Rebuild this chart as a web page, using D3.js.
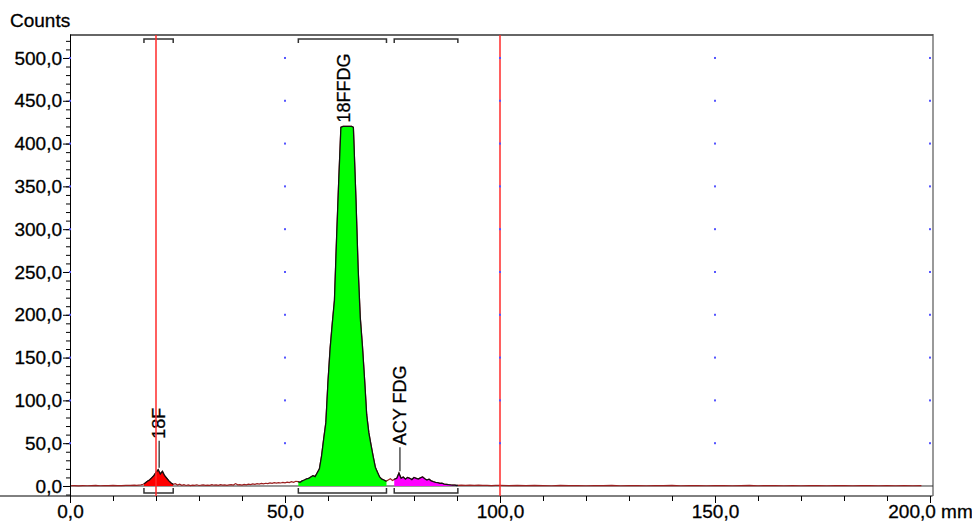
<!DOCTYPE html>
<html>
<head>
<meta charset="utf-8">
<script src="https://cdn.jsdelivr.net/npm/d3@7/dist/d3.min.js"></script>
<style>
    body { margin: 0; background: #fff; }
    svg text { font-family: "Liberation Sans", Arial, sans-serif; }
</style>
</head>
<body>
<div id="main"></div>
<script>
// radio-TLC trace: [position mm, counts]
const trace = [
    [0, 0.3], [1, 0.4], [2, 0.2], [3, 0.5], [4, 0.3], [5, 0.4], [6, 0.6], [7, 0.3], [8, 0.5], [9, 0.4],
    [10, 0.7], [11, 0.5], [12, 0.4], [13, 0.8], [14, 0.6], [15, 0.9], [15.5, 0.7], [16, 1], [16.5, 1.3],
    [17, 2], [17.5, 3.5], [18, 5.5], [18.5, 7], [19, 9.5], [19.5, 12], [20, 16], [20.5, 19], [21, 14],
    [21.5, 17], [22, 12], [22.5, 9], [23, 6], [23.5, 3.5], [24, 2],
    [24.5, 2.6], [25, 1], [25.5, 2.2], [26, 0.8], [26.5, 1.5], [27, 0.6], [27.5, 1.2], [28, 0.5], [28.5, 1],
    [29, 0.7], [29.5, 1.4], [30, 0.6], [30.5, 0.9], [31, 1.3], [31.5, 0.7], [32, 1.1], [32.5, 0.8], [33, 1.6],
    [33.5, 0.9], [34, 1.2], [34.5, 0.7], [35, 1.5], [35.5, 1], [36, 1.3], [36.5, 0.8], [37, 1.2], [37.5, 1.6],
    [38, 1.1], [38.5, 2.8], [39, 1.3], [39.5, 1.5], [40, 1.1], [40.5, 1.8], [41, 1.4], [41.5, 2.1], [42, 1.6],
    [42.5, 2.4], [43, 1.9], [43.5, 2.7], [44, 2.2], [44.5, 3], [45, 2.5], [45.5, 3.2], [46, 2.8], [46.5, 3.5],
    [47, 3], [47.5, 3.8], [48, 3.3], [48.5, 4], [49, 3.5], [49.5, 4.3], [50, 3.7], [50.5, 4.5], [51, 3.9],
    [51.5, 5], [52, 4.2], [52.5, 5.5],
    [53, 5], [53.5, 4.2], [54, 6], [54.5, 7], [55, 8.2], [55.5, 9], [56, 10.5], [56.5, 12], [57, 11],
    [57.5, 15.5], [58, 20], [58.5, 35], [59, 55], [59.5, 74], [60, 122], [60.5, 161], [61, 190], [61.5, 217],
    [62, 290], [62.5, 357], [63, 419], [63.5, 420], [64, 420], [64.5, 420], [65, 420], [65.5, 420], [65.9, 419],
    [66.5, 335], [67, 255], [67.5, 197], [68, 164], [68.5, 125], [69, 83], [69.5, 62], [70, 48], [70.5, 34.5],
    [71, 22], [71.5, 16], [72, 10.5], [72.5, 8], [73, 7], [73.5, 5.5],
    [74, 7], [74.5, 8.5], [75, 6.5], [75.5, 8], [76, 9], [76.5, 15], [77, 9], [77.5, 10.5], [78, 8], [78.5, 10],
    [79, 9], [79.5, 7.5], [80, 10], [80.5, 9], [81, 8], [81.5, 9.5], [82, 10.5], [82.5, 8.5], [83, 7], [83.5, 8],
    [84, 6], [84.5, 5], [85, 4.2], [85.5, 4], [86, 3], [86.5, 3.2], [87, 2.2], [87.5, 2], [88, 1.5], [88.5, 1.2],
    [89, 1], [89.5, 1.1], [90, 0.6],
    [91, 1], [92, 0.8], [93, 1.1], [94, 0.7], [95, 0.9], [96, 0.6], [97, 0.8], [98, 0.5], [99, 0.7], [100, 0.6],
    [102, 0.5], [104, 0.7], [106, 0.4], [108, 0.6], [110, 0.5], [112, 0.3], [114, 0.6], [116, 0.4], [118, 0.5],
    [120, 0.3], [122, 0.5], [124, 0.4], [126, 0.6], [128, 0.3], [130, 0.5], [132, 0.4], [134, 0.3], [136, 0.5],
    [138, 0.4], [140, 0.6], [142, 0.3], [144, 0.4], [146, 0.5], [148, 0.3], [150, 0.4], [152, 0.5], [154, 0.3],
    [156, 0.4], [158, 0.6], [160, 0.3], [162, 0.4], [164, 0.5], [166, 0.3], [168, 0.4], [170, 0.3], [172, 0.5],
    [174, 0.4], [176, 0.3], [178, 0.5], [180, 0.4], [182, 0.3], [184, 0.4], [186, 0.5], [188, 0.3], [190, 0.4],
    [192, 0.3], [194, 0.4], [196, 0.3], [198, 0.4]
]

// integration regions
const peakNames = ["18F", "18FFDG", "ACY FDG"]
const peakStart = [17.2, 53.1, 75.4]
const peakEnd = [24.0, 73.6, 90.2]

// vertical marker lines (start / front)
const markerMm = [20, 100]

const xMajorTicks = [0, 50, 100, 150, 200]
const xTickLabels = ["0,0", "50,0", "100,0", "150,0", "200,0 mm"]
const yMajorTicks = [0, 50, 100, 150, 200, 250, 300, 350, 400, 450, 500]

// styles
let peakFill = ["#ff0000", "#00ff00", "#ff00ff"]
let leaderLen = [27, 0, 24]
let fontFamily = "'Liberation Sans', Arial, sans-serif"

let margin = {top: 34, right: 42, bottom: 27, left: 70},
    width = 972, height = 523

let x = d3.scaleLinear().domain([0, 200]).range([70, 930])
let y = d3.scaleLinear().domain([-11.7, 528]).range([height - margin.bottom, margin.top])

let svg = d3.select("#main").append("svg")
    .attr("width", width)
    .attr("height", height)

let boxRight = 933, boxBottom = height - margin.bottom

// frame
svg.append("line")
    .attr("x1", margin.left).attr("x2", boxRight)
    .attr("y1", margin.top + 1).attr("y2", margin.top + 1)
    .attr("stroke", "#666").attr("stroke-width", 2)
svg.append("line")
    .attr("x1", boxRight).attr("x2", boxRight)
    .attr("y1", margin.top).attr("y2", boxBottom)
    .attr("stroke", "#555").attr("stroke-width", 1.2)

// zero baseline
svg.append("line")
    .attr("x1", margin.left).attr("x2", boxRight)
    .attr("y1", y(0)).attr("y2", y(0))
    .attr("stroke", "#333").attr("stroke-width", 1)

let area = d3.area()
    .x(d => x(d[0]))
    .y0(y(0))
    .y1(d => y(d[1]))

let line = d3.line()
    .x(d => x(d[0]))
    .y(d => y(d[1]))

let defs = svg.append("defs")
peakNames.forEach((name, i) => {
    defs.append("clipPath").attr("id", "clip" + i)
        .append("rect")
        .attr("x", x(peakStart[i]))
        .attr("width", x(peakEnd[i]) - x(peakStart[i]))
        .attr("y", 0).attr("height", height)
})

// full trace in dark red
svg.append("path")
    .datum(trace)
    .attr("d", line)
    .attr("fill", "none")
    .attr("stroke", "#9b1f1f")
    .attr("stroke-width", 1.2)

// filled peaks with black outline
peakNames.forEach((name, i) => {
    svg.append("path")
        .datum(trace)
        .attr("d", area)
        .attr("clip-path", "url(#clip" + i + ")")
        .attr("fill", peakFill[i])
    svg.append("path")
        .datum(trace)
        .attr("d", line)
        .attr("clip-path", "url(#clip" + i + ")")
        .attr("fill", "none")
        .attr("stroke", "#111")
        .attr("stroke-width", 1.3)
})

// brackets on top and bottom
peakNames.forEach((name, i) => {
    let x0 = x(peakStart[i]), x1 = x(peakEnd[i])
    svg.append("path")
        .attr("d", `M${x0},43V39H${x1}V43`)
        .attr("fill", "none").attr("stroke", "#333").attr("stroke-width", 1.5)
    svg.append("path")
        .attr("d", `M${x0},488V493H${x1}V488`)
        .attr("fill", "none").attr("stroke", "#333").attr("stroke-width", 1.5)
})

// peak labels with leaders
peakNames.forEach((name, i) => {
    let pts = trace.filter(d => d[0] >= peakStart[i] && d[0] <= peakEnd[i])
    let top = pts.reduce((a, b) => b[1] > a[1] ? b : a)
    let px = x(top[0]), py = y(top[1]) - 2
    if (leaderLen[i] > 0) {
        svg.append("line")
            .attr("x1", px + 1).attr("x2", px + 1)
            .attr("y1", py).attr("y2", py - leaderLen[i])
            .attr("stroke", "#222").attr("stroke-width", 1.2)
    }
    let ty = py - leaderLen[i] - 2
    svg.append("text")
        .attr("transform", "translate(" + (px + 1) + "," + ty + ") rotate(-90)")
        .attr("text-anchor", "start")
        .attr("dominant-baseline", "central")
        .attr("font-size", "18px")
        .attr("fill", "#000")
        .attr("stroke", "#000").attr("stroke-width", 0.3)
        .text(name)
})

// x axis
let xMinor = svg.append("g")
    .attr("transform", "translate(0," + boxBottom + ")")
    .call(d3.axisBottom(x).tickValues(d3.range(0, 201, 10)).tickSize(5).tickFormat("").tickSizeOuter(0))
xMinor.select(".domain").attr("d", `M0,0H${boxRight - 0.5}`).attr("stroke", "#000")
let xMajor = svg.append("g")
    .attr("transform", "translate(0," + boxBottom + ")")
    .call(d3.axisBottom(x).tickValues(xMajorTicks).tickSize(7).tickPadding(2)
        .tickFormat((d, i) => xTickLabels[i]))
xMajor.select(".domain").remove()
xMajor.selectAll("text").attr("font-size", "19px").attr("fill", "#000")
    .attr("font-family", fontFamily)
    .attr("stroke", "#000").attr("stroke-width", 0.3)

// y axis
let yMinor = svg.append("g")
    .attr("transform", "translate(" + margin.left + ",0)")
    .call(d3.axisLeft(y).tickValues(d3.range(-10, 521, 10)).tickSize(4).tickFormat("").tickSizeOuter(0))
yMinor.select(".domain").attr("stroke", "#000")
let yMajor = svg.append("g")
    .attr("transform", "translate(" + margin.left + ",0)")
    .call(d3.axisLeft(y).tickValues(yMajorTicks).tickSize(7).tickPadding(1)
        .tickFormat(d => d3.format(".1f")(d).replace(".", ",")))
yMajor.select(".domain").remove()
yMajor.selectAll("text").attr("font-size", "19px").attr("fill", "#000")
    .attr("font-family", fontFamily)
    .attr("stroke", "#000").attr("stroke-width", 0.3)

svg.append("text")
    .attr("x", 10).attr("y", 27)
    .attr("font-size", "19px")
    .attr("stroke", "#000").attr("stroke-width", 0.3)
    .text("Counts")

// marker lines
markerMm.forEach(m => {
    svg.append("line")
        .attr("x1", x(m)).attr("x2", x(m))
        .attr("y1", margin.top + 1).attr("y2", boxBottom)
        .attr("stroke", "#ff2a2a").attr("stroke-width", 1.5)
})

// dotted grid
xMajorTicks.forEach(mx => {
    yMajorTicks.filter(v => v > 0).forEach(v => {
        svg.append("rect")
            .attr("x", x(mx) - 1).attr("y", y(v) - 1)
            .attr("width", 2).attr("height", 2)
            .attr("fill", "#5555ff")
    })
})
</script>
</body>
</html>
